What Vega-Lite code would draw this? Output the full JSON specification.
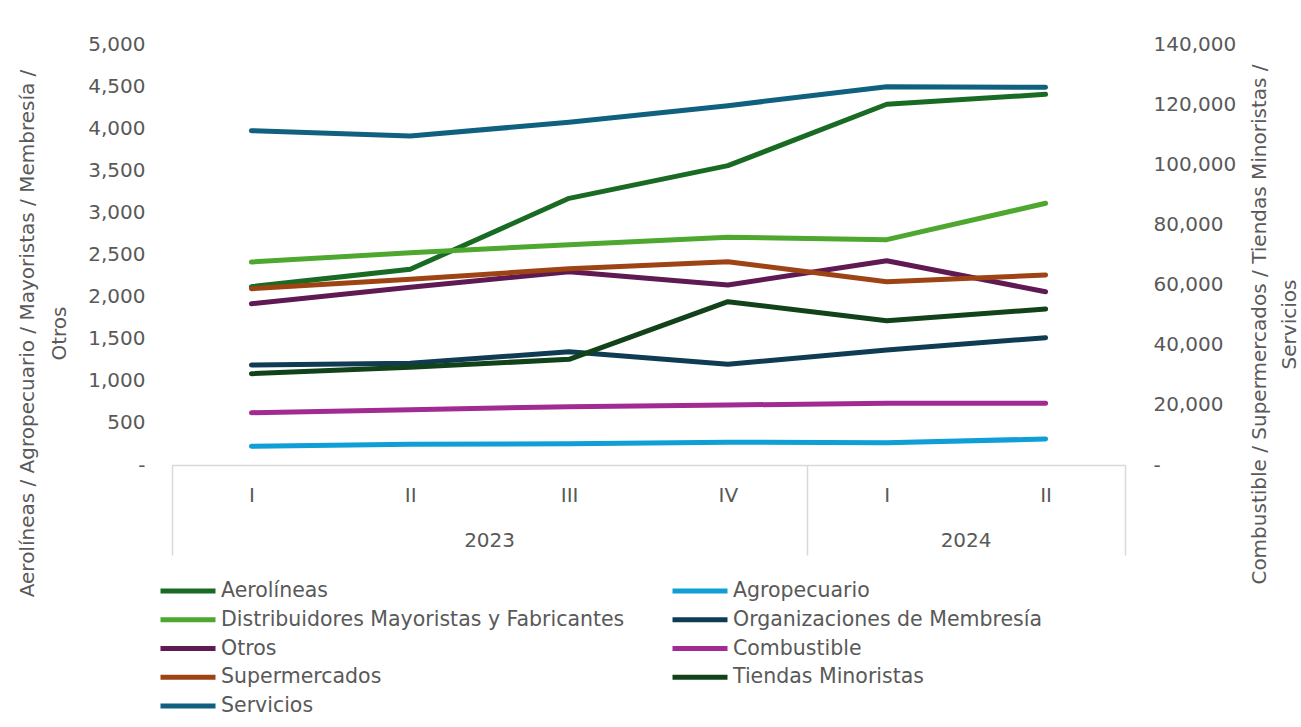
{
  "$schema": "https://vega.github.io/schema/vega-lite/v6.json",
  "width": 953,
  "height": 421,
  "autosize": "none",
  "padding": {"left": 172, "top": 44, "right": 176, "bottom": 262},
  "background": "white",
  "config": {
    "view": {"stroke": null},
    "font": "DejaVu Sans",
    "axis": {"labelFont": "DejaVu Sans", "labelFontSize": 20, "labelColor": "#595959", "titleFont": "DejaVu Sans", "titleFontSize": 20, "titleColor": "#595959", "titleFontWeight": "normal", "grid": false},
    "legend": {"labelFont": "DejaVu Sans", "labelFontSize": 20.5, "labelColor": "#595959"}
  },
  "data": {
    "values": [
      {"periodo": "2023-I", "serie": "Aerolíneas", "valor": 2118},
      {"periodo": "2023-II", "serie": "Aerolíneas", "valor": 2324},
      {"periodo": "2023-III", "serie": "Aerolíneas", "valor": 3167},
      {"periodo": "2023-IV", "serie": "Aerolíneas", "valor": 3555},
      {"periodo": "2024-I", "serie": "Aerolíneas", "valor": 4284},
      {"periodo": "2024-II", "serie": "Aerolíneas", "valor": 4403},
      {"periodo": "2023-I", "serie": "Agropecuario", "valor": 222},
      {"periodo": "2023-II", "serie": "Agropecuario", "valor": 246},
      {"periodo": "2023-III", "serie": "Agropecuario", "valor": 253},
      {"periodo": "2023-IV", "serie": "Agropecuario", "valor": 270},
      {"periodo": "2024-I", "serie": "Agropecuario", "valor": 265},
      {"periodo": "2024-II", "serie": "Agropecuario", "valor": 309},
      {"periodo": "2023-I", "serie": "Distribuidores Mayoristas y Fabricantes", "valor": 2411},
      {"periodo": "2023-II", "serie": "Distribuidores Mayoristas y Fabricantes", "valor": 2521},
      {"periodo": "2023-III", "serie": "Distribuidores Mayoristas y Fabricantes", "valor": 2616},
      {"periodo": "2023-IV", "serie": "Distribuidores Mayoristas y Fabricantes", "valor": 2704},
      {"periodo": "2024-I", "serie": "Distribuidores Mayoristas y Fabricantes", "valor": 2676},
      {"periodo": "2024-II", "serie": "Distribuidores Mayoristas y Fabricantes", "valor": 3108},
      {"periodo": "2023-I", "serie": "Organizaciones de Membresía", "valor": 1188},
      {"periodo": "2023-II", "serie": "Organizaciones de Membresía", "valor": 1208},
      {"periodo": "2023-III", "serie": "Organizaciones de Membresía", "valor": 1346},
      {"periodo": "2023-IV", "serie": "Organizaciones de Membresía", "valor": 1196},
      {"periodo": "2024-I", "serie": "Organizaciones de Membresía", "valor": 1366},
      {"periodo": "2024-II", "serie": "Organizaciones de Membresía", "valor": 1512},
      {"periodo": "2023-I", "serie": "Otros", "valor": 1916},
      {"periodo": "2023-II", "serie": "Otros", "valor": 2110},
      {"periodo": "2023-III", "serie": "Otros", "valor": 2296},
      {"periodo": "2023-IV", "serie": "Otros", "valor": 2138},
      {"periodo": "2024-I", "serie": "Otros", "valor": 2426},
      {"periodo": "2024-II", "serie": "Otros", "valor": 2058},
      {"periodo": "2023-I", "serie": "Combustible", "valor": 17390},
      {"periodo": "2023-II", "serie": "Combustible", "valor": 18390},
      {"periodo": "2023-III", "serie": "Combustible", "valor": 19390},
      {"periodo": "2023-IV", "serie": "Combustible", "valor": 19950},
      {"periodo": "2024-I", "serie": "Combustible", "valor": 20520},
      {"periodo": "2024-II", "serie": "Combustible", "valor": 20520},
      {"periodo": "2023-I", "serie": "Supermercados", "valor": 58630},
      {"periodo": "2023-II", "serie": "Supermercados", "valor": 61760},
      {"periodo": "2023-III", "serie": "Supermercados", "valor": 65280},
      {"periodo": "2023-IV", "serie": "Supermercados", "valor": 67610},
      {"periodo": "2024-I", "serie": "Supermercados", "valor": 60960},
      {"periodo": "2024-II", "serie": "Supermercados", "valor": 63190},
      {"periodo": "2023-I", "serie": "Tiendas Minoristas", "valor": 30360},
      {"periodo": "2023-II", "serie": "Tiendas Minoristas", "valor": 32490},
      {"periodo": "2023-III", "serie": "Tiendas Minoristas", "valor": 35150},
      {"periodo": "2023-IV", "serie": "Tiendas Minoristas", "valor": 54310},
      {"periodo": "2024-I", "serie": "Tiendas Minoristas", "valor": 47990},
      {"periodo": "2024-II", "serie": "Tiendas Minoristas", "valor": 51880},
      {"periodo": "2023-I", "serie": "Servicios", "valor": 111170},
      {"periodo": "2023-II", "serie": "Servicios", "valor": 109410},
      {"periodo": "2023-III", "serie": "Servicios", "valor": 113970},
      {"periodo": "2023-IV", "serie": "Servicios", "valor": 119490},
      {"periodo": "2024-I", "serie": "Servicios", "valor": 125810},
      {"periodo": "2024-II", "serie": "Servicios", "valor": 125610}
    ]
  },
  "layer": [
    {
      "transform": [{"filter": {"field": "serie", "oneOf": ["Aerolíneas", "Agropecuario", "Distribuidores Mayoristas y Fabricantes", "Organizaciones de Membresía", "Otros"]}}],
      "mark": {"type": "line", "strokeWidth": 5, "strokeCap": "round", "strokeJoin": "round"},
      "encoding": {
        "x": {
          "field": "periodo", "type": "ordinal", "bandPosition": 0.5,
          "scale": {"type": "band", "paddingInner": 0, "paddingOuter": 0, "domain": ["2023-I", "2023-II", "2023-III", "2023-IV", "2024-I", "2024-II"]},
          "axis": {
            "orient": "bottom", "title": null, "labelAngle": 0,
            "labelExpr": "split(datum.value, '-')[1]",
            "domain": true, "domainColor": "#d9d9d9", "domainWidth": 1.5,
            "ticks": true, "tickBand": "extent", "tickSize": 90, "tickColor": "#d9d9d9", "tickWidth": 1.5,
            "tickOpacity": {"condition": {"test": "indexof(['2023-I','2023-II','2023-III','2024-I'], datum.value) >= 0", "value": 0}, "value": 1},
            "labelPadding": -69.5
          }
        },
        "y": {
          "field": "valor", "type": "quantitative",
          "scale": {"domain": [0, 5000], "nice": false},
          "axis": {
            "orient": "left", "values": [0, 500, 1000, 1500, 2000, 2500, 3000, 3500, 4000, 4500, 5000],
            "labelExpr": "datum.value == 0 ? '-\u00a0\u00a0' : format(datum.value, ',')",
            "domain": false, "ticks": false, "labelPadding": 27,
            "title": ["Aerolíneas / Agropecuario / Mayoristas / Membresía /", "Otros"],
            "titleAngle": -90, "titleAlign": "center", "titleBaseline": "alphabetic",
            "titleX": -139, "titleY": 289, "titleLineHeight": 32
          }
        },
        "color": {
          "field": "serie", "type": "nominal",
          "scale": {
            "domain": ["Aerolíneas", "Agropecuario", "Distribuidores Mayoristas y Fabricantes", "Organizaciones de Membresía", "Otros", "Combustible", "Supermercados", "Tiendas Minoristas", "Servicios"],
            "range": ["#196B24", "#0F9ED5", "#4EA72E", "#0F3B53", "#5F1953", "#A02B93", "#9E4414", "#12421A", "#10607F"]
          },
          "legend": {
            "title": null, "orient": "none", "legendX": -14, "legendY": 535, "columns": 2, "direction": "horizontal",
            "symbolType": "stroke", "symbolSize": 3025, "symbolStrokeWidth": 5,
            "clipHeight": 24, "rowPadding": 4.75, "columnPadding": 45, "labelOffset": 3, "labelLimit": 700
          }
        }
      }
    },
    {
      "transform": [{"filter": {"field": "serie", "oneOf": ["Combustible", "Supermercados", "Tiendas Minoristas", "Servicios"]}}],
      "mark": {"type": "line", "strokeWidth": 5, "strokeCap": "round", "strokeJoin": "round"},
      "encoding": {
        "x": {
          "field": "periodo", "type": "ordinal", "bandPosition": 0.5,
          "scale": {"type": "band", "paddingInner": 0, "paddingOuter": 0, "domain": ["2023-I", "2023-II", "2023-III", "2023-IV", "2024-I", "2024-II"]},
          "axis": {
            "orient": "bottom", "title": null, "labelAngle": 0,
            "values": ["2023-III", "2024-II"],
            "labelExpr": "split(datum.value, '-')[0]",
            "domain": false, "ticks": false, "labelOffset": -79.5, "labelPadding": 65
          }
        },
        "y": {
          "field": "valor", "type": "quantitative",
          "scale": {"domain": [0, 140000], "nice": false},
          "axis": {
            "orient": "right", "values": [0, 20000, 40000, 60000, 80000, 100000, 120000, 140000],
            "labelExpr": "datum.value == 0 ? '-' : format(datum.value, ',')",
            "domain": false, "ticks": false, "labelPadding": 28,
            "title": ["Combustible / Supermercados / Tiendas Minoristas /", "Servicios"],
            "titleAngle": -90, "titleAlign": "center", "titleBaseline": "alphabetic",
            "titleX": 140, "titleY": 280, "titleLineHeight": 30
          }
        },
        "color": {"field": "serie", "type": "nominal"}
      }
    }
  ],
  "resolve": {"scale": {"y": "independent"}, "axis": {"x": "independent"}}
}
